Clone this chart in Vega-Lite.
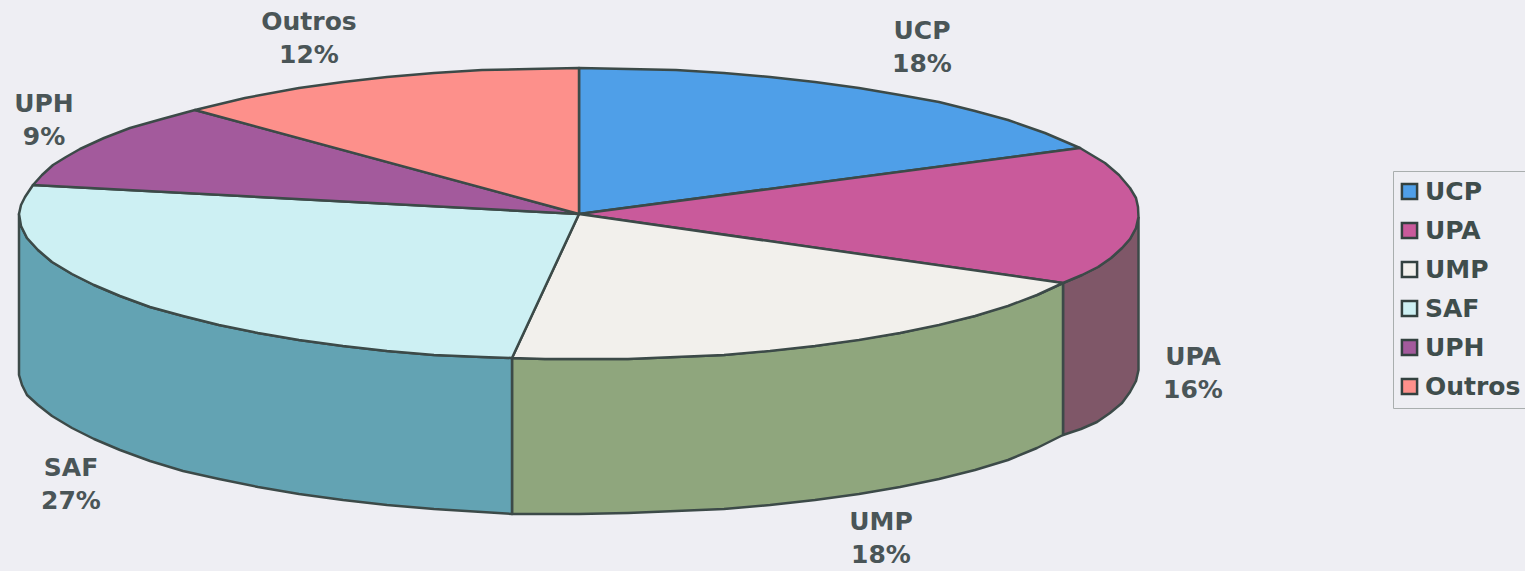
{"$schema":"https://vega.github.io/schema/vega-lite/v6.json","width":1525,"height":571,"padding":0,"autosize":"none","background":"#eeeef3","view":{"stroke":null},
"datasets":{"top":[
{"k":"UCP","o":0,"px":579,"py":214},{"k":"UCP","o":1,"px":579,"py":68},{"k":"UCP","o":2,"px":628,"py":69},{"k":"UCP","o":3,"px":676,"py":70},{"k":"UCP","o":4,"px":724,"py":73},{"k":"UCP","o":5,"px":770,"py":77},{"k":"UCP","o":6,"px":815,"py":82},{"k":"UCP","o":7,"px":859,"py":88},{"k":"UCP","o":8,"px":900,"py":95},{"k":"UCP","o":9,"px":939,"py":102},{"k":"UCP","o":10,"px":975,"py":111},{"k":"UCP","o":11,"px":1008,"py":120},{"k":"UCP","o":12,"px":1045,"py":133},{"k":"UCP","o":13,"px":1080,"py":148},{"k":"UCP","o":14,"px":579,"py":214},
{"k":"UPA","o":0,"px":579,"py":214},{"k":"UPA","o":1,"px":1080,"py":148},{"k":"UPA","o":2,"px":1105,"py":163},{"k":"UPA","o":3,"px":1119,"py":175},{"k":"UPA","o":4,"px":1130,"py":188},{"k":"UPA","o":5,"px":1136,"py":198},{"k":"UPA","o":6,"px":1138,"py":207},{"k":"UPA","o":7,"px":1138.5,"py":217},{"k":"UPA","o":8,"px":1136,"py":228},{"k":"UPA","o":9,"px":1130,"py":239},{"k":"UPA","o":10,"px":1122,"py":248},{"k":"UPA","o":11,"px":1111,"py":258},{"k":"UPA","o":12,"px":1098,"py":267},{"k":"UPA","o":13,"px":1082,"py":275},{"k":"UPA","o":14,"px":1063,"py":283},{"k":"UPA","o":15,"px":579,"py":214},
{"k":"UMP","o":0,"px":579,"py":214},{"k":"UMP","o":1,"px":1063,"py":283},{"k":"UMP","o":2,"px":1037,"py":295},{"k":"UMP","o":3,"px":1008,"py":306},{"k":"UMP","o":4,"px":975,"py":316},{"k":"UMP","o":5,"px":939,"py":325},{"k":"UMP","o":6,"px":900,"py":333},{"k":"UMP","o":7,"px":859,"py":340},{"k":"UMP","o":8,"px":815,"py":346},{"k":"UMP","o":9,"px":770,"py":351},{"k":"UMP","o":10,"px":724,"py":355},{"k":"UMP","o":11,"px":676,"py":357},{"k":"UMP","o":12,"px":628,"py":359},{"k":"UMP","o":13,"px":579,"py":359},{"k":"UMP","o":14,"px":545,"py":359},{"k":"UMP","o":15,"px":512,"py":358},{"k":"UMP","o":16,"px":579,"py":214},
{"k":"SAF","o":0,"px":579,"py":214},{"k":"SAF","o":1,"px":512,"py":358},{"k":"SAF","o":2,"px":482,"py":357},{"k":"SAF","o":3,"px":434,"py":355},{"k":"SAF","o":4,"px":387,"py":351},{"k":"SAF","o":5,"px":343,"py":346},{"k":"SAF","o":6,"px":299,"py":340},{"k":"SAF","o":7,"px":258,"py":333},{"k":"SAF","o":8,"px":219,"py":325},{"k":"SAF","o":9,"px":183,"py":316},{"k":"SAF","o":10,"px":150,"py":307},{"k":"SAF","o":11,"px":120,"py":296},{"k":"SAF","o":12,"px":94,"py":285},{"k":"SAF","o":13,"px":72,"py":274},{"k":"SAF","o":14,"px":52,"py":262},{"k":"SAF","o":15,"px":38,"py":250},{"k":"SAF","o":16,"px":27,"py":238},{"k":"SAF","o":17,"px":21,"py":226},{"k":"SAF","o":18,"px":19,"py":214},{"k":"SAF","o":19,"px":21,"py":205},{"k":"SAF","o":20,"px":25,"py":197},{"k":"SAF","o":21,"px":33,"py":185},{"k":"SAF","o":22,"px":579,"py":214},
{"k":"UPH","o":0,"px":579,"py":214},{"k":"UPH","o":1,"px":33,"py":185},{"k":"UPH","o":2,"px":42,"py":175},{"k":"UPH","o":3,"px":53,"py":165},{"k":"UPH","o":4,"px":66,"py":157},{"k":"UPH","o":5,"px":80,"py":149},{"k":"UPH","o":6,"px":104,"py":138},{"k":"UPH","o":7,"px":130,"py":128},{"k":"UPH","o":8,"px":162,"py":119},{"k":"UPH","o":9,"px":195,"py":110},{"k":"UPH","o":10,"px":579,"py":214},
{"k":"Outros","o":0,"px":579,"py":214},{"k":"Outros","o":1,"px":195,"py":110},{"k":"Outros","o":2,"px":245,"py":98},{"k":"Outros","o":3,"px":299,"py":88},{"k":"Outros","o":4,"px":343,"py":82},{"k":"Outros","o":5,"px":387,"py":77},{"k":"Outros","o":6,"px":434,"py":73},{"k":"Outros","o":7,"px":482,"py":70},{"k":"Outros","o":8,"px":530,"py":69},{"k":"Outros","o":9,"px":579,"py":68},{"k":"Outros","o":10,"px":579,"py":214}
],"wall":[
{"k":"UPA","o":0,"px":1138.5,"py":217},{"k":"UPA","o":1,"px":1138.5,"py":370},{"k":"UPA","o":2,"px":1136,"py":381},{"k":"UPA","o":3,"px":1130,"py":392},{"k":"UPA","o":4,"px":1122,"py":403},{"k":"UPA","o":5,"px":1110,"py":413},{"k":"UPA","o":6,"px":1097,"py":422},{"k":"UPA","o":7,"px":1081,"py":429},{"k":"UPA","o":8,"px":1063,"py":435},{"k":"UPA","o":9,"px":1063,"py":283},{"k":"UPA","o":10,"px":1082,"py":275},{"k":"UPA","o":11,"px":1098,"py":267},{"k":"UPA","o":12,"px":1111,"py":258},{"k":"UPA","o":13,"px":1122,"py":248},{"k":"UPA","o":14,"px":1130,"py":239},{"k":"UPA","o":15,"px":1136,"py":228},{"k":"UPA","o":16,"px":1138.5,"py":217},
{"k":"UMP","o":0,"px":1063,"py":283},{"k":"UMP","o":1,"px":1063,"py":435},{"k":"UMP","o":2,"px":1037,"py":448},{"k":"UMP","o":3,"px":1008,"py":460},{"k":"UMP","o":4,"px":975,"py":470},{"k":"UMP","o":5,"px":939,"py":479},{"k":"UMP","o":6,"px":900,"py":487},{"k":"UMP","o":7,"px":859,"py":494},{"k":"UMP","o":8,"px":815,"py":500},{"k":"UMP","o":9,"px":770,"py":505},{"k":"UMP","o":10,"px":724,"py":509},{"k":"UMP","o":11,"px":676,"py":511},{"k":"UMP","o":12,"px":628,"py":513},{"k":"UMP","o":13,"px":579,"py":514},{"k":"UMP","o":14,"px":545,"py":514},{"k":"UMP","o":15,"px":512,"py":514},{"k":"UMP","o":16,"px":512,"py":358},{"k":"UMP","o":17,"px":545,"py":359},{"k":"UMP","o":18,"px":628,"py":359},{"k":"UMP","o":19,"px":724,"py":355},{"k":"UMP","o":20,"px":815,"py":346},{"k":"UMP","o":21,"px":900,"py":333},{"k":"UMP","o":22,"px":975,"py":316},{"k":"UMP","o":23,"px":1037,"py":295},{"k":"UMP","o":24,"px":1063,"py":283},
{"k":"SAF","o":0,"px":512,"py":358},{"k":"SAF","o":1,"px":512,"py":514},{"k":"SAF","o":2,"px":482,"py":512},{"k":"SAF","o":3,"px":434,"py":509},{"k":"SAF","o":4,"px":387,"py":505},{"k":"SAF","o":5,"px":343,"py":500},{"k":"SAF","o":6,"px":299,"py":494},{"k":"SAF","o":7,"px":258,"py":487},{"k":"SAF","o":8,"px":219,"py":479},{"k":"SAF","o":9,"px":183,"py":471},{"k":"SAF","o":10,"px":150,"py":461},{"k":"SAF","o":11,"px":120,"py":450},{"k":"SAF","o":12,"px":94,"py":439},{"k":"SAF","o":13,"px":72,"py":428},{"k":"SAF","o":14,"px":52,"py":416},{"k":"SAF","o":15,"px":38,"py":405},{"k":"SAF","o":16,"px":27,"py":395},{"k":"SAF","o":17,"px":22,"py":385},{"k":"SAF","o":18,"px":19,"py":375},{"k":"SAF","o":19,"px":19,"py":214},{"k":"SAF","o":20,"px":21,"py":226},{"k":"SAF","o":21,"px":27,"py":238},{"k":"SAF","o":22,"px":38,"py":250},{"k":"SAF","o":23,"px":52,"py":262},{"k":"SAF","o":24,"px":72,"py":274},{"k":"SAF","o":25,"px":94,"py":285},{"k":"SAF","o":26,"px":120,"py":296},{"k":"SAF","o":27,"px":150,"py":307},{"k":"SAF","o":28,"px":183,"py":316},{"k":"SAF","o":29,"px":219,"py":325},{"k":"SAF","o":30,"px":258,"py":333},{"k":"SAF","o":31,"px":299,"py":340},{"k":"SAF","o":32,"px":343,"py":346},{"k":"SAF","o":33,"px":387,"py":351},{"k":"SAF","o":34,"px":434,"py":355},{"k":"SAF","o":35,"px":482,"py":357},{"k":"SAF","o":36,"px":512,"py":358}
],"labels":[
{"k":"UCP","share":"18%","px":922,"py":31},{"k":"UPA","share":"16%","px":1193,"py":357},{"k":"UMP","share":"18%","px":881,"py":522},{"k":"SAF","share":"27%","px":71,"py":468},{"k":"UPH","share":"9%","px":44,"py":104},{"k":"Outros","share":"12%","px":309,"py":22}
]},
"encoding":{
"x":{"field":"px","type":"quantitative","scale":{"domain":[0,1525],"nice":false,"zero":false},"axis":null},
"y":{"field":"py","type":"quantitative","scale":{"domain":[571,0],"nice":false,"zero":false},"axis":null}},
"layer":[
{"data":{"name":"wall"},"mark":{"type":"line","stroke":"#3c4a48","strokeWidth":2.5,"strokeJoin":"round","interpolate":"linear"},
"encoding":{"order":{"field":"o","type":"quantitative"},"fill":{"field":"k","type":"nominal","legend":null,"scale":{"domain":["UPA","UMP","SAF"],"range":["#7f5768","#8fa67d","#63a3b3"]}}}},
{"data":{"name":"top"},"mark":{"type":"line","stroke":"#3c4a48","strokeWidth":2.5,"strokeJoin":"round","interpolate":"linear"},
"encoding":{"order":{"field":"o","type":"quantitative"},"fill":{"field":"k","type":"nominal","sort":["UCP","UPA","UMP","SAF","UPH","Outros"],
"scale":{"domain":["UCP","UPA","UMP","SAF","UPH","Outros"],"range":["#4f9fe8","#c95a9b","#f2f0ec","#cdf0f3","#a35a9c","#fd908b"]},
"legend":{"title":null,"orient":"none","legendX":1393,"legendY":171,"padding":8,"strokeColor":"#a9aeae","symbolType":"square","symbolSize":230,"symbolOffset":-4,"symbolStrokeColor":"#33413f","symbolStrokeWidth":2.5,"labelFont":"DejaVu Sans","labelFontWeight":"bold","labelFontSize":25,"labelColor":"#3f4d4c","rowPadding":12,"labelOffset":3,"labelLimit":200}}}},
{"data":{"name":"labels"},"mark":{"type":"text","font":"DejaVu Sans","fontWeight":"bold","fontSize":25,"fill":"#4a5557","align":"center","baseline":"middle"},"encoding":{"text":{"field":"k"}}},
{"data":{"name":"labels"},"mark":{"type":"text","font":"DejaVu Sans","fontWeight":"bold","fontSize":25,"fill":"#4a5557","align":"center","baseline":"middle","dy":33},"encoding":{"text":{"field":"share"}}}
],
"resolve":{"scale":{"fill":"independent"}}}
